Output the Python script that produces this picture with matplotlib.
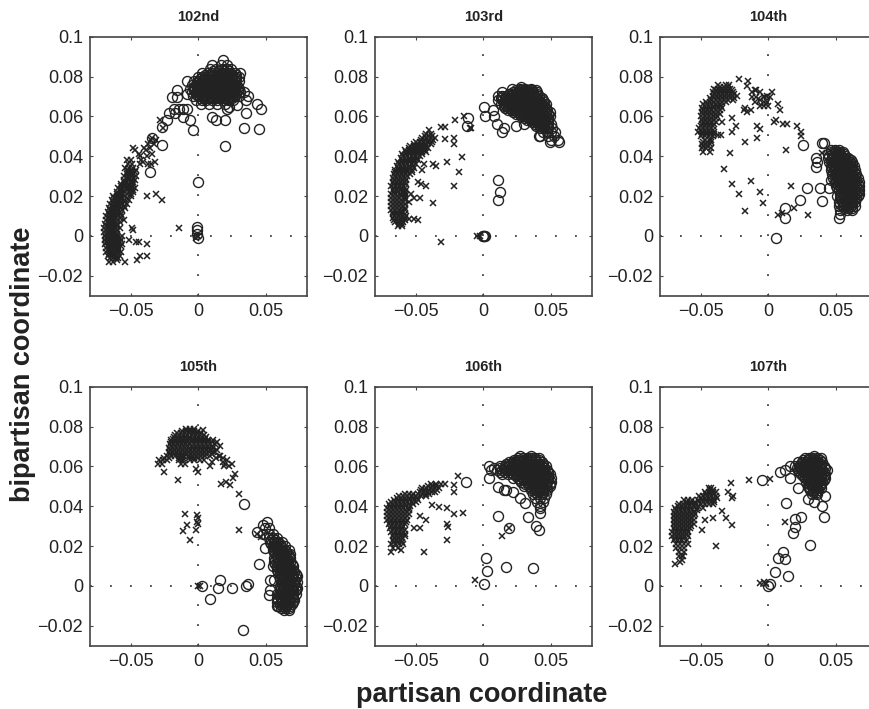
import numpy as np
import matplotlib
matplotlib.use("Agg")
import matplotlib.pyplot as plt

plt.rcParams['font.family'] = ['Liberation Sans', 'DejaVu Sans']

# values, in thousandths: (y, [x, x, ...])
crosses_102 = [
    (-13, [-66, -63, -54]), (-12, [-60, -45]), (-10, [-67, -64, -61, -58, -43, -38]),
    (-8, [-68, -65, -62, -59, -57]), (-6, [-68, -65, -62, -59]),
    (-4, [-69, -66, -63, -60, -56, -38]), (-3, [-44, -46]), (-2, [-69, -66, -63, -60, -57, -51]),
    (-1, [-2]), (0, [-69, -66, -63, -60, -56, 0, -1]), (2, [-70, -67, -64, -61]),
    (3, [-48]), (4, [-70, -67, -64, -61, -58, -49, -14]), (6, [-69, -66, -63, -60]),
    (8, [-68, -65, -62, -59, -55]), (10, [-68, -65, -62, -59, -56]), (12, [-67, -64, -61, -58]),
    (14, [-66, -63, -60, -57, -54]), (16, [-65, -62, -59, -56, -53]),
    (18, [-64, -61, -58, -55, -51, -27]), (20, [-63, -60, -57, -54, -50, -38]),
    (21, [-31]), (22, [-60, -57, -54, -51, -48]), (24, [-59, -56, -53, -50, -47]),
    (26, [-57, -54, -51, -48]), (28, [-55, -52, -49, -47]), (30, [-55, -52, -49, -46]),
    (32, [-53, -50, -47]), (34, [-54, -51, -48]), (36, [-52, -49, -43, -37, -35]),
    (37, [-32, -41]), (38, [-53, -50, -42]), (40, [-43, -38]), (41, [-44, -34]),
    (43, [-47, -39]), (44, [-48, -40, -36]), (46, [-37, -33]), (48, [-35, -31]),
    (49, [-34]), (54, [-26]), (58, [-28]),
]
crosses_102_core = [
    (-11, [-65, -63, -61, -59]), (-9, [-66, -64, -62, -60]), (-7, [-67, -65, -63, -61, -59]),
    (-5, [-67, -65, -63, -61, -59, -57]), (-3, [-68, -66, -64, -62, -60, -58]),
    (-1, [-68, -66, -64, -62, -60, -58]), (1, [-68, -66, -64, -62, -60]),
    (3, [-68, -66, -64, -62, -60]), (5, [-68, -66, -64, -62, -60]),
    (7, [-67, -65, -63, -61, -58]), (9, [-67, -65, -63, -61, -58]),
    (11, [-66, -64, -62, -60, -57]), (13, [-65, -63, -61, -59, -56]),
    (15, [-64, -62, -60, -58, -55]), (17, [-63, -61, -59, -57, -54]),
    (19, [-62, -60, -58, -56, -53]), (21, [-60, -58, -56, -53, -50]),
    (23, [-58, -56, -53, -50, -48]), (25, [-57, -54, -52, -49]), (27, [-55, -53, -50, -48]),
    (29, [-53, -51, -48]), (31, [-53, -50, -48]), (33, [-52, -49, -46]),
]
circles_102 = [
    (-1, [0]), (1, [-1]), (3, [-1]), (4.5, [-1]), (27, [0]), (32, [-36]), (45, [20]),
    (45.5, [-27]), (49, [-34]), (53, [-4]), (53.5, [44.5]), (54, [34]), (54.5, [-27]),
    (58, [13, 20, -6, -23]), (59.5, [10, -11]), (61.5, [-22, -17, 35]),
    (63.5, [-14.5, -11, -8.5, -18, 21, 46]), (64.5, [23]), (65.7, [28.5]), (66, [2, 8, 14, 20, 43]),
    (68, [-2, 3, 6, 10, 14, 18, 22, 26, 35]), (69.5, [-19.5, -16]),
    (70, [-4, 0, 3, 6, 9, 12, 15, 18, 21, 24, 27, 30, 37]), (71, [-8]),
    (72, [-5, -2, 1, 4, 7, 10, 13, 16, 19, 22, 25, 28, 31, 33.5]), (73, [-16]),
    (74, [-6, -3, 0, 3, 6, 9, 12, 15, 18, 21, 24, 27, 30]),
    (76, [-5, -2, 1, 4, 7, 10, 13, 16, 19, 22, 25, 28]),
    (78, [-8, -3, 0, 3, 6, 9, 12, 15, 18, 21, 24, 27, 30]),
    (80, [0, 3, 6, 9, 12, 15, 18, 21, 24, 27, 30]),
    (82, [3, 7, 10, 14, 17, 20, 23, 27, 31]), (84, [9, 13, 18, 21, 24]),
    (86, [10, 17, 21]), (88.5, [18]),
]
circles_102_core = [
    (69, [1, 4, 7, 10, 13, 16, 19, 22, 25]), (71, [-2, 1, 4, 7, 10, 13, 16, 19, 22, 25, 28]),
    (73, [-3, 0, 2, 5, 8, 11, 14, 17, 20, 23, 26, 29]),
    (75, [-3, -1, 2, 5, 8, 11, 14, 17, 20, 23, 26, 29]),
    (77, [-1, 2, 5, 8, 11, 14, 17, 20, 23, 26]), (79, [1, 4, 7, 10, 13, 16, 19, 22, 25, 28]),
    (81, [5, 8, 11, 15, 19, 22, 25, 28]), (83, [11, 15, 19, 23]),
]

crosses_103 = [
    (-3, [-31]), (0, [-4.5, -2.5]), (5, [-63, -60]), (7, [-65, -62, -59]),
    (8, [-48]), (8.7, [-51, -55]), (9, [-67, -64, -61, -58]), (11, [-67, -64, -61, -58]),
    (13, [-68, -65, -62, -58]), (15, [-68, -65, -62, -59]), (16.5, [-37]),
    (17, [-68, -65, -62, -59, -55]), (19, [-68, -65, -62, -58, -51, -47]),
    (21, [-68, -65, -61, -58, -53.5]), (23, [-67, -64, -61, -57]),
    (25, [-68, -65, -62, -59, -42, -22]), (26, [-46]), (27, [-67, -64, -61, -58, -48.5]),
    (29, [-67, -64, -61, -58]), (31, [-66, -63, -60, -57, -54]), (32, [-18]),
    (33, [-65, -62, -59, -56, -53, -45]), (35, [-64, -61, -58, -55, -52, -35]),
    (36, [-43.5, -37]), (37, [-63, -60, -57, -54, -51, -27]),
    (39, [-61, -58, -55, -52, -49]), (39.7, [-16]), (41, [-60, -57, -54, -51, -48, -45]),
    (43, [-58, -55, -52, -49, -46, -43]), (45, [-54, -51, -48, -45, -42]), (46, [-22]),
    (47, [-50, -47, -44, -41, -38]), (48.5, [-28]), (49, [-45, -42, -39, -36, -22]),
    (51, [-42, -39]), (53, [-40]), (54, [-9, -10]), (54.5, [-31, -28]), (58, [-21]), (60, [-14]),
]
crosses_103_core = [
    (6, [-62, -60]), (8, [-66, -63, -60, -58]), (10, [-66, -63, -60, -57]),
    (12, [-67, -64, -61, -59]), (14, [-67, -64, -61, -58]), (16, [-67, -64, -61, -58]),
    (18, [-67, -64, -61, -58]), (20, [-67, -64, -61, -58]), (22, [-66, -63, -60, -58]),
    (24, [-66, -63, -60, -58]), (26, [-66, -63, -60, -57]), (28, [-66, -63, -60, -57]),
    (30, [-65, -62, -59, -56]), (32, [-65, -62, -59, -56, -53]), (34, [-63, -60, -57, -54, -51]),
    (36, [-62, -59, -56, -53, -50]), (38, [-60, -57, -54, -51, -48]),
    (40, [-59, -56, -53, -50, -47]), (42, [-57, -54, -51, -48, -45, -42]),
    (44, [-55, -52, -49, -46, -43, -41]), (46, [-51, -48, -45, -42, -39]),
    (48, [-46, -43, -40, -37]), (50, [-43, -40, -38]),
]
circles_103 = [
    (0, [0, 0.5, -0.5, 1]), (18, [11]), (22, [12]), (28, [11]), (47, [49, 56]), (48, [50, 55]),
    (50, [42, 41, 48, 52]), (52, [44, 47, 50, 53, 14]), (54, [42, 45, 48, 51, 15]),
    (55, [-12, 24]), (56, [38, 41, 44, 47, 50, 10, 30]), (58, [32, 36, 39, 42, 45, 48, 35]),
    (59, [-11]), (60, [28, 31, 34, 37, 40, 43, 46, 49, 1, 8]),
    (62, [22, 25, 28, 31, 34, 37, 40, 43, 46, 49]), (63, [7.5]), (64.5, [0.5]),
    (64, [16, 19, 22, 25, 28, 31, 34, 37, 40, 43, 46]),
    (66, [13, 16, 19, 22, 25, 28, 31, 34, 37, 40, 43, 46]),
    (68, [11, 14, 17, 20, 23, 26, 29, 32, 35, 38, 41, 44]),
    (70, [11, 14, 17, 20, 23, 26, 29, 32, 35, 38, 41]),
    (72, [14, 22, 25, 28, 31, 34, 37, 40]), (74, [21, 27, 31, 35]), (75, [28]),
]
circles_103_core = [
    (55, [39, 42, 45, 48]), (57, [36, 39, 42, 45, 48]), (59, [30, 33, 36, 39, 42, 45, 48]),
    (61, [24, 27, 30, 33, 36, 39, 42, 45, 48]), (63, [18, 21, 24, 27, 30, 33, 36, 39, 42, 45, 47]),
    (65, [15, 18, 21, 24, 27, 30, 33, 36, 39, 42, 45]),
    (67, [15, 18, 21, 24, 27, 30, 33, 36, 39, 42, 45]),
    (69, [13, 16, 19, 22, 25, 28, 31, 34, 37, 40, 43]),
    (71, [19, 22, 25, 28, 31, 34, 37, 40]), (73, [24, 27, 30, 33, 36, 39]),
]

crosses_104 = [
    (10.4, [7, 29]), (11.7, [10]), (12.6, [-17]), (14, [19]), (16.7, [-4]), (20.8, [-22]),
    (22, [-6.5]), (25, [17]), (26.3, [-27]), (27.6, [-13]), (33.5, [-32.5]), (41.4, [40]),
    (41.7, [-28.5]), (42, [-48, -43]), (43, [13]), (44, [-49, -46, -42]), (46, [-49, -46, -43]),
    (47, [-17]), (48, [-47, -42]), (49.4, [-8]), (50, [-50, -47, -44, -41, 24]),
    (50.6, [-35, -37]), (52, [-52, -49, -46, -43, -40, -27, 24]), (53.6, [-6]),
    (54, [-51, -48, -45, -42]), (55, [-8, 21, -24]), (56, [-49, -46, -43, -40, 11, 14]),
    (57, [-34, 4]), (58, [-49, -46, -43, -40, 6]), (59, [-27]),
    (60, [-50, -47, -44, -41, -38]), (62, [-49, -46, -43, -40, -37, -16]),
    (63, [-18, -13, 8.4]), (64, [-49, -46, -43, -40, -37, -34, -17]),
    (65, [-3, -6, 0]), (66, [-48, -45, -42, -39, -36, 7]), (67, [-10, -1, -3]),
    (68, [-42, -39, -36, -33, -30, -26, -6]), (69.5, [-12, 1.5, -9, -3]),
    (70, [-41, -38, -35, -32, -29, -26, -23, -1]), (72, [-41, -38, -35, -32, -29, -26, -12, -6, 3]),
    (73, [-9, -10]), (74, [-40, -37, -34, -31, -28]), (75.4, [-16]), (76, [-37, -31, -29]),
    (77.7, [-15]), (79, [-22]),
]
crosses_104_core = [
    (45, [-48, -45]), (47, [-48, -45, -42]), (51, [-49, -46, -43, -40]), (53, [-50, -47, -44, -41]),
    (55, [-50, -47, -44, -41]), (57, [-48, -45, -42, -39]), (59, [-48, -45, -42, -39]),
    (61, [-48, -45, -42, -39, -36]), (63, [-48, -45, -42, -39, -36]),
    (65, [-47, -44, -41, -38, -35]), (67, [-46, -43, -40, -37, -34, -31]),
    (69, [-43, -40, -37, -34, -31, -28, -25]), (71, [-40, -37, -34, -31, -28, -25]),
    (73, [-39, -36, -33, -30, -27]), (75, [-36, -33, -30]),
]
circles_104 = [
    (-1, [5.7]), (9, [12, 52]), (11, [52.7]), (13, [53, 58, 62]), (14, [12.6]),
    (15, [52, 55, 58, 61, 64]), (17, [52, 55, 58, 61, 64]), (17.6, [39.4]), (18, [23.6]),
    (19, [53, 56, 59, 62, 65]), (21, [53, 56, 59, 62, 65, 67]), (23, [52, 55, 58, 61, 64, 67]),
    (24, [38, 28.6, 44.6]), (25, [50, 53, 56, 59, 62, 65, 67]), (27, [49, 52, 55, 58, 61, 64, 67]),
    (28, [46]), (29, [48, 51, 54, 57, 60, 63, 66]), (31, [47, 50, 53, 56, 59, 62, 65]),
    (33, [46, 49, 52, 55, 58, 61, 64]), (34.7, [35]), (35, [46, 49, 52, 55, 58, 61, 63]),
    (37, [36, 45, 48, 51, 54, 57, 60, 62]), (39, [35, 44, 47, 50, 53, 56, 59]),
    (41, [44, 47, 50, 53, 56]), (43, [46, 49, 52]), (45.6, [26]), (46.7, [40, 41]), (68, [-4]),
]
circles_104_core = [
    (14, [56, 59, 62]), (16, [53, 56, 59, 62]), (18, [54, 57, 60, 63]), (20, [51, 54, 57, 60, 63, 66]),
    (22, [54, 57, 60, 63, 66]), (24, [51, 54, 57, 60, 63, 66]), (26, [51, 54, 57, 60, 63, 66]),
    (28, [50, 53, 56, 59, 62, 65]), (30, [49, 52, 55, 58, 61, 64]), (32, [48, 51, 54, 57, 60, 63]),
    (34, [47, 50, 53, 56, 59, 62]), (36, [47, 50, 53, 56, 59, 62]), (38, [46, 49, 52, 55, 58, 61]),
    (40, [45, 48, 51, 54, 57]), (42, [46, 49, 52, 55]),
]

crosses_105 = [
    (0, [0, 1]), (23, [-6]), (24.6, [46]), (26, [43]), (27.5, [-11]), (28, [30, -2]),
    (30.5, [-8]), (31, [0]), (32, [-1]), (34, [-0.5]), (35.5, [-1]), (36, [-10]), (46, [30]),
    (50.6, [23.6]), (51.4, [17]), (52, [20.4]), (53, [-15]), (54, [25.4]), (56, [27]),
    (57, [-25, 0]), (58.5, [-2]), (60, [9, 19]), (61, [-30, -27, -13, -10, 25]),
    (63, [-29, -26, -23, -14, -11, -6, -3, 1, 4, 21]), (64, [18]),
    (65, [-23, -20, -17, -14, -11, -7, -4, -1, 2, 5, 9, 15]),
    (67, [-22, -19, -16, -13, -10, -7, -4, -1, 2, 5, 8, 11]),
    (69, [-22, -19, -16, -13, -10, -7, -4, -1, 2, 5, 8, 11]),
    (71, [-21, -18, -15, -12, -9, -6, -3, 0, 3, 6, 9, 12]),
    (73, [-20, -17, -14, -11, -8, -5, -2, 1, 4, 7, 11]),
    (75, [-18, -15, -12, -9, -6, -3, 0, 3, 6]), (77, [-16, -13, -10, -7, -4, -1, 2]),
    (78.5, [3.4]), (79, [-9, -6, -3]),
]
crosses_105_core = [
    (62, [10, 18]), (60, [23]), (61, [20]), (64, [-25, -22, -14, -11, -7, -3, 0, 13]), (65, [16]),
    (66, [-21, -18, -15, -12, -9, -6, -3, 0, 3, 6, 10]), (67, [12]),
    (68, [-21, -18, -15, -12, -9, -6, -3, 0, 3, 6, 9, 14]),
    (70, [-20, -17, -14, -11, -8, -5, -2, 1, 4, 7, 10, 16]),
    (72, [-20, -17, -14, -11, -8, -5, -2, 1, 4, 7, 10, 14]),
    (74, [-19, -16, -13, -10, -7, -4, -1, 2, 5]), (76, [-17, -14, -11, -8, -5, -2, 1, 4]),
    (78, [-12, -9, -6, -3, 0]),
]
circles_105 = [
    (-22, [33]), (-12, [63, 67]), (-10, [59, 62, 65, 68, 58]), (-8, [58, 61, 64, 67, 70]),
    (-6.5, [9]), (-6, [58, 61, 64, 67, 70]), (-4.7, [52]), (-4, [58, 61, 64, 67, 70, 72]),
    (-2, [60, 63, 66, 69, 72, 53]), (-1, [14.5, 25]), (0, [60, 63, 66, 69, 72, 2.7, 35]),
    (1, [36.7]), (2, [61, 64, 67, 70, 73]), (3, [16, 53, 56]), (4, [60, 63, 66, 69, 72]),
    (6, [60, 63, 66, 69, 72]), (8, [58, 61, 64, 67, 70]), (10, [55, 58, 61, 64, 67, 70]),
    (11, [44.6]), (12, [56, 59, 62, 65, 68]), (14, [56, 59, 62, 65, 68]),
    (16, [57, 60, 63, 66, 68]), (18, [55, 58, 61, 64, 67]), (19, [49]), (20, [55, 58, 61, 64]),
    (22, [53, 56, 59, 62]), (24, [52, 55, 58]), (26, [48, 52, 55]), (27, [43]),
    (29, [49.5, 52]), (30.5, [48]), (32, [51]), (41, [34]),
]
circles_105_core = [
    (-11, [61, 64, 67]), (-9, [60, 63, 66, 69]), (-7, [59, 62, 65, 68, 71]), (-5, [60, 63, 66, 69]),
    (-3, [61, 64, 67, 70]), (-1, [61, 64, 67, 70, 73]), (1, [62, 65, 68, 71]), (3, [62, 65, 68, 71]),
    (5, [61, 64, 67, 70, 73]), (7, [59, 62, 65, 68, 71]), (9, [59, 62, 65, 68]),
    (11, [57, 60, 63, 66, 69]), (13, [57, 60, 63, 66]), (15, [58, 61, 64, 67]),
    (17, [56, 59, 62, 65]), (19, [56, 59, 62]), (21, [54, 57, 60]), (23, [54, 57]),
]

crosses_106 = [
    (3, [-6]), (17, [-68, -44]), (18, [-61]), (19, [-67, -63]), (21, [-68, -65, -62, -59]),
    (23, [-67, -64, -61, -26.6]), (25, [-67, -64, -61, -58, 14]), (27, [-68, -65, -62, -59]),
    (29, [-69, -66, -63, -60, -51, -47, 19]), (29.6, [-26]), (31, [-70, -67, -64, -61, -58, -27]),
    (33, [-71, -68, -65, -62, -59, -56, -42]), (35, [-71, -68, -65, -62, -59, -56, -47]),
    (36, [-22]), (36.7, [-15]), (37, [-71, -68, -65, -62, -59, -56]),
    (39, [-71, -68, -65, -62, -59, -55, -27]), (39.7, [-33]), (40.5, [-38]),
    (41, [-70, -67, -64, -61, -58, -55, -52]), (43, [-66, -63, -60, -57, -54, -51, -48]),
    (45, [-62, -59, -56, -53, -50, -46, -42]), (47, [-47, -44, -41, -38, -36, -22]),
    (49, [-45, -42, -39, -36, -33]), (50.6, [-22]), (51, [-39, -35, -31, -28]), (55, [-19]),
]
crosses_106_core = [
    (22, [-66, -63, -60]), (24, [-66, -63, -60]), (26, [-66, -63, -60, -58]), (28, [-67, -64, -61, -58]),
    (30, [-68, -65, -62, -59]), (32, [-69, -66, -63, -60, -57]), (34, [-70, -67, -64, -61, -58]),
    (36, [-70, -67, -64, -61, -58, -55]), (38, [-70, -67, -64, -61, -58, -55]),
    (40, [-69, -66, -63, -60, -57, -54]), (42, [-68, -65, -62, -59, -56, -53, -50]),
    (44, [-64, -61, -58, -55, -52, -49]), (46, [-48, -45, -42, -40, -58, -55, -52]),
    (48, [-46, -43, -40, -37, -34]), (50, [-41, -38, -35]),
]
circles_106 = [
    (1, [0.5]), (7.5, [3]), (9, [36.5]), (9.5, [17]), (14, [2]), (28, [41]), (29, [19]),
    (30, [39]), (34.7, [33]), (35, [11]), (36.7, [42]), (39, [42]), (40, [42]), (41.7, [31]),
    (42, [40, 44]), (44, [27, 38, 42, 45]), (46, [37, 40, 43, 46]), (47, [22]),
    (48, [15, 16.5, 35, 38, 41, 44, 47]), (49.5, [11]), (50, [30, 34, 37, 40, 43, 46, 49]),
    (52, [-13, 28, 32, 35, 38, 41, 44, 47, 50]), (54, [4.5, 22, 26, 29, 32, 35, 38, 41, 44, 47, 50]),
    (56, [14, 18, 22, 25, 28, 31, 34, 37, 40, 43, 46, 49]),
    (58, [6, 10, 14, 17, 20, 23, 26, 29, 32, 35, 38, 41, 44, 47]),
    (60, [4, 12, 16, 19, 22, 25, 28, 31, 34, 37, 40, 43, 46]),
    (62, [19, 22, 25, 28, 31, 34, 37, 40, 43]), (64, [26, 29, 32, 35, 38, 41]), (65, [27, 35]),
]
circles_106_core = [
    (47, [38, 41, 44]), (49, [35, 38, 41, 44, 47]), (51, [31, 34, 37, 40, 43, 46, 49]),
    (53, [27, 30, 33, 36, 39, 42, 45, 48]), (55, [24, 27, 30, 33, 36, 39, 42, 45, 48]),
    (57, [12, 16, 20, 24, 27, 30, 33, 36, 39, 42, 45, 48]),
    (59, [8, 12, 16, 20, 24, 27, 30, 33, 36, 39, 42, 45]),
    (61, [17, 20, 23, 26, 29, 32, 35, 38, 41, 44]), (63, [23, 26, 29, 32, 35, 38, 41]),
]

crosses_107 = [
    (1, [-2]), (1.5, [-6]), (2, [-3.5]), (11, [-69]), (12, [-65]), (13, [-64]), (15, [-66, -63, -64]),
    (17, [-66, -62]), (19, [-68, -65, -62]), (20, [-38.6]), (21, [-68, -65, -62, -59]),
    (23, [-70, -67, -64, -60]), (25, [-71, -68, -65, -62, -59]), (27, [-71, -68, -65, -62, -59]),
    (28, [-49]), (29, [-70, -67, -64, -61, -58]), (30.5, [-27]), (31, [-70, -67, -64, -61, -58, -55]),
    (32, [12.5]), (33, [-70, -67, -64, -61, -58, -55, -46.5]), (34, [-41, -31]),
    (35, [-70, -67, -64, -61, -58, -55]), (37, [-70, -67, -64, -61, -58, -55]), (37.5, [-34]),
    (39, [-69, -66, -63, -60, -57, -53, -48]), (41, [-66, -63, -60, -57, -54, -50, -47, -44, -41]),
    (43, [-62, -59, -56, -52, -49, -46, -43, -40]), (44, [-27]), (45, [-51, -48, -45, -42, -39, -26]),
    (47, [-47, -44, -41, -39, -30]), (49, [-44, -42]), (51.5, [-27.6]), (53, [-14.5]), (53.5, [1.5]),
]
crosses_107_core = [
    (24, [-69, -66, -63]), (26, [-69, -66, -63, -60]), (28, [-69, -66, -63, -60]),
    (30, [-69, -66, -63, -60, -57]), (32, [-69, -66, -63, -60, -57]), (34, [-69, -66, -63, -60, -57]),
    (36, [-69, -66, -63, -60, -57, -54]), (38, [-68, -65, -62, -59, -56, -53]),
    (40, [-67, -64, -61, -58, -55, -52]), (42, [-60, -57, -54, -51, -48, -45, -42, -40]),
    (44, [-50, -47, -44, -41, -38]), (46, [-46, -43, -40]), (48, [-43, -41]),
]
circles_107 = [
    (0, [0]), (1, [1]), (5, [14.3]), (7, [4.7]), (13.7, [12]), (14, [7]), (16.8, [10.6]),
    (20.4, [30.5]), (26.8, [18]), (29.6, [20]), (33.8, [19.5]), (34.7, [41.4, 24]), (40, [40]),
    (41.7, [13]), (42, [34]), (43.4, [29]), (45, [42]), (46, [32, 36]), (48, [31, 34, 37]),
    (49.4, [21.6]), (50, [29, 32, 35, 38]), (52, [28, 31, 34, 37, 40]),
    (53, [-4.7]), (54, [16, 27, 30, 33, 36, 39, 42]), (56, [24, 27, 30, 33, 36, 39, 42]),
    (57, [9]), (58, [12.5, 22, 25, 28, 31, 34, 37, 40, 43]),
    (60, [16, 20, 23, 26, 29, 32, 35, 38, 41]), (62, [22, 25, 28, 31, 34, 37, 40]),
    (64, [27, 30, 33, 36, 39]), (65, [34]),
]
circles_107_core = [
    (47, [33, 36]), (49, [30, 33, 36, 39]), (51, [30, 33, 36, 39]), (53, [29, 32, 35, 38, 41]),
    (55, [26, 29, 32, 35, 38, 41]), (57, [23, 26, 29, 32, 35, 38, 41]),
    (59, [21, 24, 27, 30, 33, 36, 39, 42]), (61, [24, 27, 30, 33, 36, 39]), (63, [26, 29, 32, 35, 38]),
]

titles = ['102nd', '103rd', '104th', '105th', '106th', '107th']
crosses = [crosses_102 + crosses_102_core, crosses_103 + crosses_103_core,
           crosses_104 + crosses_104_core, crosses_105 + crosses_105_core,
           crosses_106 + crosses_106_core, crosses_107 + crosses_107_core]
circles = [circles_102 + circles_102_core, circles_103 + circles_103_core,
           circles_104 + circles_104_core, circles_105 + circles_105_core,
           circles_106 + circles_106_core, circles_107 + circles_107_core]
xticks = [-0.05, 0, 0.05]
xticklabels = ['\u22120.05', '0', '0.05']
yticks = [-0.02, 0, 0.02, 0.04, 0.06, 0.08, 0.1]
yticklabels = ['\u22120.02', '0', '0.02', '0.04', '0.06', '0.08', '0.1']


def unpack(rows):
    xs = []
    ys = []
    for y, row in rows:
        for x in row:
            xs.append(x / 1000)
            ys.append(y / 1000)
    return xs, ys


W, H = 870, 709
lefts = [90, 375, 660]
tops = [36.7, 386.7]
dark = '#222222'

fig = plt.figure(figsize=(W / 100, H / 100), dpi=100)

for i in range(6):
    left = lefts[i % 3]
    top = tops[i // 3]
    ax = fig.add_axes([left / W, 1 - (top + 259) / H, 216.6 / W, 259 / H])
    ax.set_xlim(-0.08, 0.08)
    ax.set_ylim(-0.03, 0.1)
    ax.plot([-0.08, 0.08], [0, 0], color='#333333', lw=1.2, ls=(0, (1.1, 10.9)), zorder=1)
    ax.plot([0, 0], [-0.03, 0.1], color='#333333', lw=1.2, ls=(0, (1.1, 10.9)), zorder=1)

    x, y = unpack(circles[i])
    ax.plot(x, y, 'o', mfc='none', mec=dark, mew=1.0, ms=7.2, zorder=2)
    x, y = unpack(crosses[i])
    ax.plot(x, y, 'x', color=dark, mew=1.1, ms=4.8, zorder=3)

    ax.set_xticks(xticks)
    ax.set_xticklabels(xticklabels)
    ax.set_yticks(yticks)
    ax.set_yticklabels(yticklabels)
    ax.tick_params(direction='in', length=2.5, width=0.8, color='#444444', top=True, right=True,
                   labelsize=13, labelcolor='#222222', pad=5)
    for s in ax.spines.values():
        s.set_linewidth(1.2)
        s.set_color('#444444')
    ax.set_title(titles[i], fontsize=10.5, fontweight='bold', pad=11, color='#222222')

fig.text(482 / W, 1 - 695 / H, 'partisan coordinate', fontsize=19.5, fontweight='bold',
         ha='center', va='center', color='#222222')
fig.text(23 / W, 1 - 364 / H, 'bipartisan coordinate', fontsize=19.5, fontweight='bold',
         rotation=90, ha='center', va='center', color='#222222')

fig.savefig('out.png', dpi=100)
